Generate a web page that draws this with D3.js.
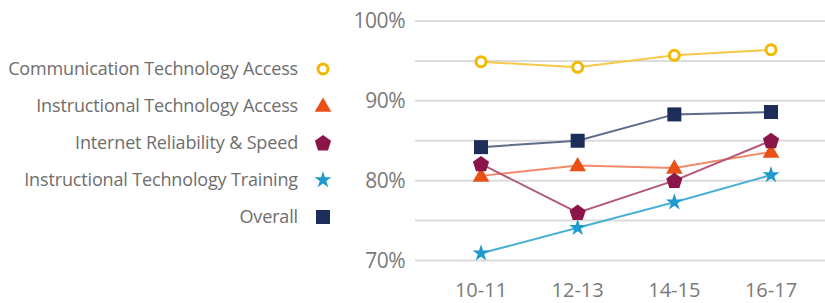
<!DOCTYPE html>
<html><head><meta charset="utf-8">
<script src="https://cdn.jsdelivr.net/npm/d3@7"></script>
<style>body{margin:0;background:#fff}svg{display:block}</style>
</head><body><svg id="c" width="825" height="303"></svg>
<script>
const categories = ["10-11","12-13","14-15","16-17"];
const seriesNames = ["Communication Technology Access","Instructional Technology Access","Internet Reliability & Speed","Instructional Technology Training","Overall"];
const commAccess = [94.9, 94.2, 95.7, 96.4];
const instrAccess = [80.6, 81.9, 81.6, 83.6];
const internet = [82.1, 76.0, 80.0, 85.0];
const training = [70.9, 74.1, 77.3, 80.7];
const overall = [84.2, 85.0, 88.3, 88.6];
const yTicks = [70, 75, 80, 85, 90, 95, 100];
const yLabels = ["70%","","80%","","90%","","100%"];

const series = [
  {name: seriesNames[0], values: commAccess, line:"#f7c948", mark:"#f5b800", shape:"ring"},
  {name: seriesNames[1], values: instrAccess, line:"#f28a6a", mark:"#ea4f16", shape:"triangle"},
  {name: seriesNames[2], values: internet, line:"#b5577c", mark:"#8a1549", shape:"pentagon"},
  {name: seriesNames[3], values: training, line:"#4ab0d6", mark:"#1d9bcf", shape:"star"},
  {name: seriesNames[4], values: overall, line:"#5d6b8c", mark:"#1b2d58", shape:"square"}
];

const svg = d3.select("#c");
const x = d3.scalePoint().domain(categories).range([481, 771]);
const y = d3.scaleLinear().domain([70, 100]).range([260.5, 21]);
const font = "'Open Sans', sans-serif";

// grid
svg.append("g").selectAll("line").data(yTicks).join("line")
  .attr("x1", 415).attr("x2", 825)
  .attr("y1", d => y(d)).attr("y2", d => y(d))
  .attr("stroke", "#dcdcdc").attr("stroke-width", 2);

// y labels
svg.append("g").selectAll("text").data(yTicks).join("text")
  .attr("x", 405).attr("y", d => y(d)).attr("dy", "0.35em")
  .attr("text-anchor", "end").attr("font-family", font).attr("font-size", 21)
  .attr("letter-spacing", -0.5)
  .attr("fill", "#7a7a7a").text((d,i) => yLabels[i]);

// x labels
svg.append("g").selectAll("text").data(categories).join("text")
  .attr("x", d => x(d)).attr("y", 297)
  .attr("text-anchor", "middle").attr("font-family", font).attr("font-size", 20)
  .attr("fill", "#7a7a7a").text(d => d);

function drawMarker(g, shape, color, cx, cy) {
  if (shape === "ring") {
    g.append("circle").attr("cx", cx).attr("cy", cy).attr("r", 5)
      .attr("fill", "#fff").attr("stroke", color).attr("stroke-width", 3);
  } else if (shape === "triangle") {
    g.append("path").attr("transform", `translate(${cx},${cy+1})`)
      .attr("d", d3.symbol(d3.symbolTriangle, 120)()).attr("fill", color);
  } else if (shape === "pentagon") {
    const r = 8.5;
    const pts = d3.range(5).map(i => {
      const a = -Math.PI/2 + i * 2*Math.PI/5;
      return [cx + r*Math.cos(a), cy + r*Math.sin(a) + 0.5];
    });
    g.append("polygon").attr("points", pts.map(p=>p.join(",")).join(" ")).attr("fill", color);
  } else if (shape === "star") {
    g.append("path").attr("transform", `translate(${cx},${cy})`)
      .attr("d", d3.symbol(d3.symbolStar, 90)()).attr("fill", color);
  } else if (shape === "square") {
    g.append("rect").attr("x", cx-7).attr("y", cy-7).attr("width", 14).attr("height", 14).attr("fill", color);
  }
}

const line = d3.line().x((d,i) => x(categories[i])).y(d => y(d));
series.forEach(s => {
  const g = svg.append("g");
  g.append("path").attr("d", line(s.values)).attr("fill", "none")
    .attr("stroke", s.line).attr("stroke-width", 2);
});
series.forEach(s => {
  const g = svg.append("g");
  s.values.forEach((v,i) => drawMarker(g, s.shape, s.mark, x(categories[i]), y(v)));
});

// legend
const legY = d3.scalePoint().domain(seriesNames).range([69, 217]);
const leg = svg.append("g");
series.forEach(s => {
  leg.append("text").attr("x", 298).attr("y", legY(s.name)).attr("dy", "0.35em")
    .attr("text-anchor", "end").attr("font-family", font).attr("font-size", 18)
    .attr("letter-spacing", -0.15)
    .attr("fill", "#6e6e6e").text(s.name);
  drawMarker(leg, s.shape, s.mark, 323, legY(s.name));
});
</script></body></html>
